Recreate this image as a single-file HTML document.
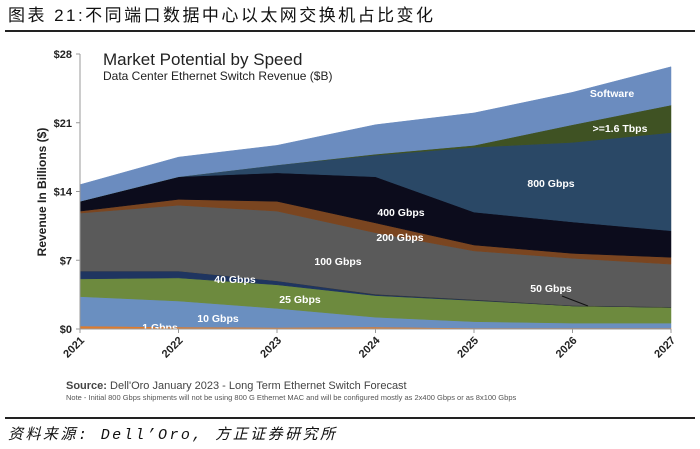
<!DOCTYPE html>
<html><head><meta charset="utf-8"><style>
body{margin:0;width:700px;height:449px;background:#fff;overflow:hidden;font-family:"Liberation Sans","Noto Sans CJK SC",sans-serif}
svg{position:absolute;left:0;top:0}
</style></head><body>
<svg width="700" height="449" id="c">
<text x="8" y="21" font-size="17" textLength="425" lengthAdjust="spacing" font-family="Liberation Sans,Noto Sans CJK SC,sans-serif" fill="#111">图表 21:不同端口数据中心以太网交换机占比变化</text>
<rect x="5" y="30" width="690" height="2" fill="#222"/>
<text x="103" y="65" font-size="17" fill="#222">Market Potential by Speed</text>
<text x="103" y="80" font-size="12" fill="#222">Data Center Ethernet Switch Revenue ($B)</text>
<g id="areas"></g>
<g id="axes"></g>
<text transform="translate(46,192) rotate(-90)" text-anchor="middle" font-size="12" font-weight="bold" fill="#222">Revenue In Billions ($)</text>
<text x="66" y="389" font-size="11" fill="#444"><tspan font-weight="bold">Source:</tspan> Dell'Oro January 2023 - Long Term Ethernet Switch Forecast</text>
<text x="66" y="400" font-size="7.5" fill="#555">Note - Initial 800 Gbps shipments will not be using 800 G Ethernet MAC and will be configured mostly as 2x400 Gbps or as 8x100 Gbps</text>
<rect x="5" y="417" width="690" height="2" fill="#222"/>
<text x="8" y="439" font-size="15" textLength="327" lengthAdjust="spacing" font-style="italic" fill="#111" font-family="Liberation Mono,Noto Sans CJK SC,sans-serif">资料来源: Dell’Oro, 方正证券研究所</text>
</svg>
<script>
const years=["2021","2022","2023","2024","2025","2026","2027"];
const seriesNames=["1 Gbps","10 Gbps","25 Gbps","40 Gbps","50 Gbps","100 Gbps","200 Gbps","400 Gbps","800 Gbps",">=1.6 Tbps","Software"];
const s1G=[0.3,0.2,0.15,0.2,0.1,0.1,0.1];
const s10G=[3.0,2.65,1.95,1.0,0.65,0.5,0.5];
const s25G=[1.8,2.35,2.4,2.2,2.15,1.75,1.6];
const s40G=[0.8,0.7,0.4,0.1,0.05,0,0];
const s50G=[0,0,0,0.05,0.05,0.05,0.05];
const s100G=[5.9,6.7,7.1,6.25,4.95,4.8,4.35];
const s200G=[0.2,0.6,1.0,1.0,0.6,0.5,0.7];
const s400G=[1.0,2.3,2.9,4.7,3.35,3.2,2.7];
const s800G=[0,0,0.8,2.2,6.6,8.1,10.0];
const s1600G=[0,0,0,0.1,0.2,1.8,2.8];
const sSoftware=[1.7,2.0,2.0,3.0,3.3,3.3,3.9];
const yTicks=[0,7,14,21,28];
const yTickLabels=["$0","$7","$14","$21","$28"];
const series=[s1G,s10G,s25G,s40G,s50G,s100G,s200G,s400G,s800G,s1600G,sSoftware];
const colors=["#e07b2b","#6a8fc0","#6d8a3e","#1f3560","#333","#5a5a5a","#7a4520","#0c0c1c","#2a4866","#3f5223","#6b8cbf"];
const NS="http://www.w3.org/2000/svg";
const x0=80,x1=671,y0=329,yTop=54;
const xs=i=>x0+(x1-x0)*i/(years.length-1);
const ys=v=>y0-(y0-yTop)*v/28;
const areas=document.getElementById('areas'),axes=document.getElementById('axes');
let base=years.map(()=>0);
series.forEach((s,k)=>{
  const top=base.map((b,i)=>b+s[i]);
  let d=top.map((v,i)=>(i?'L':'M')+xs(i)+','+ys(v)).join('');
  for(let i=years.length-1;i>=0;i--)d+='L'+xs(i)+','+ys(base[i]);
  const p=document.createElementNS(NS,'path');
  p.setAttribute('d',d+'Z');p.setAttribute('fill',colors[k]);
  p.setAttribute('stroke',colors[k]);p.setAttribute('stroke-width','0.5');
  
  
  areas.appendChild(p);
  base=top;
});
function txt(x,y,t,o){const e=document.createElementNS(NS,'text');e.setAttribute('x',x);e.setAttribute('y',y);e.textContent=t;for(const a in o)e.setAttribute(a,o[a]);return e;}
const labels=[["Software",612,97],[">=1.6 Tbps",620,132],["800 Gbps",551,187],["400 Gbps",401,216],["200 Gbps",400,241],["100 Gbps",338,265],["40 Gbps",235,283],["25 Gbps",300,303],["10 Gbps",218,322],["1 Gbps",160,331],["50 Gbps",551,292]];
labels.forEach(l=>{const e=txt(l[1],l[2],l[0],{'font-size':'10.5','font-weight':'bold',fill:'#fff','text-anchor':'middle'});


areas.appendChild(e);});
const ln=document.createElementNS(NS,'line');ln.setAttribute('x1',562);ln.setAttribute('y1',296);ln.setAttribute('x2',588);ln.setAttribute('y2',306);ln.setAttribute('stroke','#111');


areas.appendChild(ln);
const ax=document.createElementNS(NS,'path');ax.setAttribute('d','M'+x0+','+yTop+'V'+y0+'H'+x1);ax.setAttribute('stroke','#999');ax.setAttribute('fill','none');


axes.appendChild(ax);
yTicks.forEach((v,i)=>{
  const t=document.createElementNS(NS,'line');t.setAttribute('x1',x0-4);t.setAttribute('x2',x0);t.setAttribute('y1',ys(v));t.setAttribute('y2',ys(v));t.setAttribute('stroke','#999');axes.appendChild(t);
  const e=txt(72,ys(v)+4,yTickLabels[i],{'font-size':'11','font-weight':'bold',fill:'#222','text-anchor':'end'});
  
  
  axes.appendChild(e);
});
years.forEach((y,i)=>{
  const t=document.createElementNS(NS,'line');t.setAttribute('x1',xs(i));t.setAttribute('x2',xs(i));t.setAttribute('y1',y0);t.setAttribute('y2',y0+4);t.setAttribute('stroke','#999');axes.appendChild(t);
  const e=txt(0,0,y,{'font-size':'11','font-weight':'bold',fill:'#222','text-anchor':'end',transform:'translate('+(xs(i)+5)+','+(y0+12)+') rotate(-45)'});
  
  
  axes.appendChild(e);
});
</script>
</body></html>
